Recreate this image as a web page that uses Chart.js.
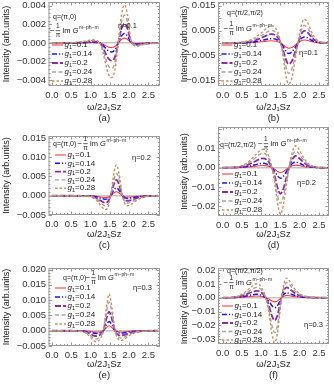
<!DOCTYPE html>
<html>
<head>
<meta charset="utf-8">
<script src="https://cdn.jsdelivr.net/npm/chart.js@4.4.0/dist/chart.umd.min.js"></script>
<style>
  body { margin: 0; background: #fff; }
  #wrap { position: relative; width: 334px; height: 385px; overflow: hidden; }
  .panel { position: absolute; }
</style>
</head>
<body>
<div id="wrap">
  <div class="panel" id="pa"><canvas></canvas></div>
  <div class="panel" id="pb"><canvas></canvas></div>
  <div class="panel" id="pc"><canvas></canvas></div>
  <div class="panel" id="pd"><canvas></canvas></div>
  <div class="panel" id="pe"><canvas></canvas></div>
  <div class="panel" id="pf"><canvas></canvas></div>
</div>
<script>
// g1 values of the five curves, same in every panel
const gValues = ['0.1', '0.14', '0.2', '0.24', '0.28'];
const xTicks = [0, 0.5, 1, 1.5, 2, 2.5];

// (a) q=(pi,0), eta=0.1
const wA = [0, 0.4, 0.7, 0.9, 1.05, 1.2, 1.3, 1.4, 1.47, 1.55, 1.63, 1.72, 1.8, 1.88, 1.96, 2.05, 2.2, 2.4, 2.75];
const a10 = [0, 0, 0.00001, 0.00003, 0.00005, 0.00003, -0.00008, -0.0003, -0.00044, -0.00048, -0.00037, 0.00001, 0.00038, 0.00053, 0.00038, 0.00004, -0.00005, -0.00002, 0];
const a14 = [0, 0, 0.00003, 0.00006, 0.00009, 0.00005, -0.00015, -0.0006, -0.00085, -0.00095, -0.00073, 0.00003, 0.00075, 0.00103, 0.00075, 0.00008, -0.00009, -0.00003, 0];
const a20 = [0, 0.00001, 0.00005, 0.00013, 0.00018, 0.0001, -0.0003, -0.0012, -0.0017, -0.0019, -0.0015, 0.00005, 0.0015, 0.0021, 0.0015, 0.00015, -0.00018, -0.00006, 0];
const a24 = [0, 0.00001, 0.00007, 0.00018, 0.00026, 0.00015, -0.00044, -0.0018, -0.0025, -0.0027, -0.0021, 0.0001, 0.0022, 0.003, 0.0022, 0.0002, -0.00026, -0.00009, 0];
const a28 = [0, 0.00002, 0.0001, 0.00025, 0.00035, 0.0002, -0.0006, -0.0024, -0.0034, -0.0037, -0.0029, 0.0001, 0.003, 0.0041, 0.003, 0.0003, -0.00035, -0.00012, 0];
const aTicks = [-0.004, -0.002, 0, 0.002, 0.004];

// (b) q=(pi/2,pi/2), eta=0.1
const wB = [0, 0.4, 0.6, 0.8, 1.0, 1.15, 1.27, 1.38, 1.47, 1.55, 1.63, 1.71, 1.8, 1.88, 1.96, 2.04, 2.12, 2.22, 2.32, 2.45, 2.6, 2.75];
const b10 = [0, 0.00001, 0.00008, 0.00023, 0.0005, 0.00077, 0.0009, 0.00074, 0.0003, -0.00045, -0.0015, -0.0021, -0.0018, -0.0009, 0.00006, 0.0009, 0.0012, 0.001, 0.0005, 0.00015, 0.00003, 0];
const b14 = [0, 0.00003, 0.00015, 0.00045, 0.001, 0.0015, 0.0018, 0.0015, 0.0006, -0.0009, -0.003, -0.0042, -0.0035, -0.0018, 0.0001, 0.0018, 0.0024, 0.002, 0.001, 0.0003, 0.00005, 0];
const b20 = [0, 0.00005, 0.0003, 0.0009, 0.002, 0.0031, 0.0036, 0.003, 0.0013, -0.0018, -0.0061, -0.0085, -0.0072, -0.0036, 0.0003, 0.0036, 0.0049, 0.004, 0.002, 0.0006, 0.0001, 0];
const b24 = [0, 0.00007, 0.0004, 0.0013, 0.0029, 0.0044, 0.0051, 0.0042, 0.0018, -0.0026, -0.0088, -0.0122, -0.0103, -0.0051, 0.0004, 0.0051, 0.0071, 0.0057, 0.0029, 0.0009, 0.00015, 0];
const b28 = [0, 0.0001, 0.0006, 0.0018, 0.004, 0.006, 0.007, 0.0058, 0.0025, -0.0035, -0.012, -0.0165, -0.014, -0.007, 0.0005, 0.007, 0.0096, 0.0078, 0.004, 0.0012, 0.0002, 0];
const bTicks = [-0.015, -0.01, -0.005, 0, 0.005, 0.01, 0.015];

// (c) q=(pi,0), eta=0.2
const wC = [0, 0.5, 0.8, 1.0, 1.15, 1.27, 1.37, 1.46, 1.53, 1.6, 1.67, 1.74, 1.81, 1.88, 1.96, 2.08, 2.2, 2.35, 2.5, 2.75];
const c10 = [0, 0, -0.00001, -0.00004, -0.00014, -0.00033, -0.00046, -0.00036, 0.00006, 0.0007, 0.00102, 0.00072, 0.00013, -0.00024, -0.00033, -0.00027, -0.00015, -0.00006, -0.00002, 0];
const c14 = [0, 0, -0.00001, -0.00008, -0.00028, -0.00065, -0.0009, -0.0007, 0.00012, 0.0014, 0.002, 0.0014, 0.00025, -0.00048, -0.00065, -0.00053, -0.0003, -0.00012, -0.00004, 0];
const c20 = [0, 0, -0.00003, -0.00015, -0.00056, -0.0013, -0.0018, -0.0014, 0.00025, 0.0028, 0.0041, 0.0029, 0.0005, -0.001, -0.0013, -0.0011, -0.0006, -0.00025, -0.00008, 0];
const c24 = [0, 0, -0.00004, -0.0002, -0.0008, -0.0019, -0.0026, -0.002, 0.0004, 0.004, 0.0058, 0.0041, 0.0007, -0.0014, -0.0019, -0.0015, -0.0009, -0.0004, -0.0001, 0];
const c28 = [0, 0, -0.00005, -0.0003, -0.0011, -0.0026, -0.0036, -0.0028, 0.0005, 0.0055, 0.008, 0.0056, 0.001, -0.0019, -0.0026, -0.0021, -0.0012, -0.0005, -0.00015, 0];
const cTicks = [-0.005, 0, 0.005, 0.01, 0.015];

// (d) q=(pi/2,pi/2), eta=0.2
const wD = [0, 0.3, 0.5, 0.7, 0.85, 0.95, 1.05, 1.15, 1.22, 1.28, 1.36, 1.43, 1.5, 1.57, 1.64, 1.7, 1.76, 1.83, 1.9, 1.98, 2.08, 2.2, 2.35, 2.5, 2.75];
const d10 = [0, 0.00002, 0.0001, 0.0004, 0.00075, 0.001, 0.0011, 0.0009, 0.0005, 0, -0.00095, -0.002, -0.0025, -0.0021, -0.0011, -0.0003, 0.0005, 0.0011, 0.0013, 0.0011, 0.0007, 0.0003, 0.0001, 0, 0];
const d14 = [0, 0.00005, 0.00023, 0.0008, 0.0015, 0.002, 0.0022, 0.0018, 0.001, 0, -0.0021, -0.0044, -0.0055, -0.0046, -0.0025, -0.0007, 0.001, 0.0024, 0.0028, 0.0024, 0.0014, 0.0006, 0.0002, 0, 0];
const d20 = [0, 0.0001, 0.0005, 0.0018, 0.0033, 0.0043, 0.0048, 0.004, 0.0023, 0, -0.005, -0.0107, -0.0135, -0.0113, -0.0062, -0.0017, 0.0021, 0.005, 0.006, 0.005, 0.0031, 0.0013, 0.0004, 0.00005, 0];
const d24 = [0, 0.00015, 0.0008, 0.0027, 0.0051, 0.0067, 0.0075, 0.0063, 0.0035, 0, -0.007, -0.0147, -0.0185, -0.0155, -0.0085, -0.0023, 0.003, 0.0072, 0.0085, 0.0072, 0.0044, 0.0019, 0.0005, 0.0001, 0];
const d28 = [0, 0.0002, 0.001, 0.0035, 0.0065, 0.0085, 0.0095, 0.008, 0.0045, 0, -0.009, -0.019, -0.024, -0.02, -0.011, -0.003, 0.004, 0.0095, 0.0113, 0.0095, 0.0058, 0.0025, 0.0007, 0.0001, 0];
const dTicks = [-0.02, -0.01, 0, 0.01];

// (e) q=(pi,0), eta=0.3
const wE = [0, 0.5, 0.8, 0.95, 1.05, 1.15, 1.25, 1.33, 1.4, 1.48, 1.56, 1.63, 1.7, 1.78, 1.88, 2.0, 2.15, 2.35, 2.75];
const e10 = [0, 0, -0.00005, -0.0002, -0.00037, -0.00046, -0.00033, -0.00003, 0.00085, 0.0016, 0.00093, 0.00005, -0.00031, -0.00041, -0.00035, -0.0002, -0.00009, -0.00003, 0];
const e14 = [0, -0.00001, -0.0001, -0.0004, -0.0007, -0.0009, -0.00065, -0.00005, 0.0016, 0.003, 0.0018, 0.0001, -0.0006, -0.0008, -0.0007, -0.0004, -0.00018, -0.00005, 0];
const e20 = [0, -0.00002, -0.0002, -0.0008, -0.0014, -0.0018, -0.0013, -0.0001, 0.0034, 0.0062, 0.0036, 0.0002, -0.0012, -0.0016, -0.0014, -0.0008, -0.00035, -0.0001, 0];
const e24 = [0, -0.00002, -0.0003, -0.0011, -0.0021, -0.0027, -0.0019, -0.0001, 0.0051, 0.0094, 0.0055, 0.0003, -0.0018, -0.0024, -0.002, -0.0012, -0.0005, -0.00015, 0];
const e28 = [0, -0.00003, -0.0004, -0.0015, -0.0029, -0.0036, -0.0026, -0.0002, 0.0065, 0.012, 0.007, 0.0004, -0.0024, -0.0032, -0.0027, -0.0016, -0.0007, -0.0002, 0];
const eTicks = [-0.005, 0, 0.005, 0.01, 0.015, 0.02];

// (f) q=(pi/2,pi/2), eta=0.3
const wF = [0, 0.2, 0.4, 0.55, 0.7, 0.8, 0.88, 0.97, 1.05, 1.12, 1.2, 1.28, 1.35, 1.42, 1.48, 1.53, 1.59, 1.66, 1.74, 1.84, 1.95, 2.1, 2.3, 2.5, 2.75];
const f10 = [0, 0.00002, 0.00014, 0.0004, 0.0008, 0.0011, 0.0012, 0.0011, 0.0006, 0, -0.001, -0.0024, -0.003, -0.0024, -0.0011, 0, 0.0011, 0.0016, 0.0014, 0.0009, 0.0005, 0.0002, 0.00005, 0, 0];
const f14 = [0, 0.00005, 0.0003, 0.0009, 0.0017, 0.0022, 0.0025, 0.0022, 0.0012, 0, -0.0024, -0.0058, -0.0072, -0.0058, -0.0027, 0.0001, 0.0025, 0.0035, 0.003, 0.0019, 0.001, 0.0004, 0.0001, 0, 0];
const f20 = [0, 0.0001, 0.0006, 0.0017, 0.0034, 0.0045, 0.005, 0.0045, 0.0025, 0, -0.0055, -0.0131, -0.0164, -0.0131, -0.006, 0.0003, 0.0053, 0.0075, 0.0063, 0.004, 0.0021, 0.0008, 0.0002, 0, 0];
const f24 = [0, 0.00015, 0.0009, 0.0026, 0.005, 0.0067, 0.0075, 0.0067, 0.0037, 0, -0.0086, -0.0203, -0.0253, -0.0203, -0.0093, 0.0004, 0.0077, 0.011, 0.0093, 0.0058, 0.0031, 0.0012, 0.0003, 0.0001, 0];
const f28 = [0, 0.0002, 0.0012, 0.0035, 0.0068, 0.009, 0.0101, 0.009, 0.005, 0, -0.011, -0.026, -0.0325, -0.026, -0.012, 0.0005, 0.01, 0.0142, 0.012, 0.0075, 0.004, 0.0015, 0.0004, 0.0001, 0];
const fTicks = [-0.03, -0.02, -0.01, 0, 0.01, 0.02];

// line styles for g1 = 0.1 ... 0.28
const lineColors = ['#ff3c3c', '#1414ff', '#8f2a9f', '#a3a3a3', '#c8915c'];
const lineDash = [[], [5, 2, 1.2, 2], [6, 2], [4, 2.5], [2.5, 2]];
const lineWidths = [1.1, 1.5, 1.8, 1.4, 1.4];

const FONT = '"Liberation Sans", Arial, sans-serif';
const TOP_PAD = 10;

const panels = [
    {id: 'pa', col: 0, top: -8, plotH: 84, xAxisH: 38, ymin: -0.0046, ymax: 0.0044, dec: 3, yTicks: aTicks,
     w: wA, ys: [a10, a14, a20, a24, a28], tag: '(a)', q: 'q=(π,0)', eta: 'η=0.1',
     qPos: [4.5, 15], gPos: [1.5, 29], etaPos: [69.5, 24], leg: [3.5, 43, 9]},
    {id: 'pb', col: 1, top: -8, plotH: 84, xAxisH: 38, ymin: -0.0173, ymax: 0.0165, dec: 3, yTicks: bTicks,
     w: wB, ys: [b10, b14, b20, b24, b28], tag: '(b)', q: 'q=(π/2,π/2)', eta: 'η=0.1',
     qPos: [9, 11], gPos: [5.5, 27], etaPos: [81, 51], leg: [3.5, 43, 9]},
    {id: 'pc', col: 0, top: 126, plotH: 79, xAxisH: 36, ymin: -0.005, ymax: 0.0155, dec: 3, yTicks: cTicks,
     w: wC, ys: [c10, c14, c20, c24, c28], tag: '(c)', q: 'q=(π,0)', eta: 'η=0.2',
     qPos: [4.5, 8], gPos: [29, 8], etaPos: [83.5, 22], leg: [6.5, 19, 8.3]},
    {id: 'pd', col: 1, top: 117, plotH: 89, xAxisH: 35, ymin: -0.025, ymax: 0.021, dec: 2, yTicks: dTicks,
     w: wD, ys: [d10, d14, d20, d24, d28], tag: '(d)', q: 'q=(π/2,π/2)', eta: 'η=0.2',
     qPos: [2, 18], gPos: [40, 17], etaPos: [79, 56], leg: [4, 47, 9]},
    {id: 'pe', col: 0, top: 258, plotH: 78, xAxisH: 35, ymin: -0.005, ymax: 0.0205, dec: 3, yTicks: eTicks,
     w: wE, ys: [e10, e14, e20, e24, e28], tag: '(e)', q: 'q=(π,0)', eta: 'η=0.3',
     qPos: [14.5, 10], gPos: [37, 10], etaPos: [84.5, 20], leg: [6.5, 20, 9]},
    {id: 'pf', col: 1, top: 258, plotH: 76, xAxisH: 37, ymin: -0.0335, ymax: 0.0215, dec: 2, yTicks: fTicks,
     w: wF, ys: [f10, f14, f20, f24, f28], tag: '(f)', q: 'q=(π/2,π/2)', eta: 'η=0.3',
     qPos: [9, 3], gPos: [5.5, 15], etaPos: [86, 57], leg: [4, 38, 8.5]}
];

const colGeom = [
    {left: 0, plotLeft: 48.5, plotRight: 160, xmin: -0.09, xmax: 2.8, titlePad: 1},
    {left: 167, plotLeft: 218, plotRight: 329, xmin: -0.12, xmax: 2.76, titlePad: 12}
];

function fmtY(v, dec) {
    const s = Math.abs(v) < 1e-12 ? (0).toFixed(dec) : v.toFixed(dec);
    return s.replace('-', '\u2212');
}

// "-(1/pi) Im G^(m-ph-m)"
function drawImG(ctx, x, y) {
    ctx.textBaseline = 'middle';
    ctx.textAlign = 'left';
    ctx.font = '8px ' + FONT;
    ctx.fillText('\u2212', x, y);
    const fx = x + ctx.measureText('\u2212').width + 1;
    ctx.fillRect(fx, y - 0.6, 4.5, 0.7);
    ctx.font = '6.5px ' + FONT;
    ctx.textAlign = 'center';
    ctx.fillText('1', fx + 2.25, y - 5);
    ctx.fillText('π', fx + 2.25, y + 4.5);
    ctx.textAlign = 'left';
    ctx.font = '7.5px ' + FONT;
    let gx = fx + 6.5;
    ctx.fillText('Im ', gx, y);
    gx += ctx.measureText('Im ').width;
    ctx.font = 'italic 7.5px ' + FONT;
    ctx.fillText('G', gx, y);
    gx += ctx.measureText('G').width + 0.5;
    ctx.font = '5px ' + FONT;
    ctx.fillText('m\u2212ph\u2212m', gx, y - 3);
}

function drawG1(ctx, x, y, g) {
    ctx.textBaseline = 'middle';
    ctx.textAlign = 'left';
    ctx.font = 'italic 8px ' + FONT;
    ctx.fillText('g', x, y);
    let tx = x + ctx.measureText('g').width;
    ctx.font = '5.5px ' + FONT;
    ctx.fillText('1', tx, y + 2.2);
    tx += ctx.measureText('1').width;
    ctx.font = '8px ' + FONT;
    ctx.fillText('=' + g, tx, y);
}

const decorPlugin = {
    id: 'decor',
    afterDatasetsDraw(chart, args, opts) {
        const p = opts.panel;
        const {left, right, top, bottom} = chart.chartArea;
        const ctx = chart.ctx;
        const xs = chart.scales.x, ys = chart.scales.y;
        ctx.save();
        // frame
        ctx.strokeStyle = '#9a9a9a';
        ctx.lineWidth = 1;
        ctx.strokeRect(left + 0.5, top + 0.5, right - left - 1, bottom - top - 1);
        // inward ticks
        ctx.beginPath();
        for (let v = 0; v <= 2.75; v += 0.1) {
            const px = Math.round(xs.getPixelForValue(v)) + 0.5;
            const major = Math.abs(v * 2 - Math.round(v * 2)) < 1e-6;
            const len = major ? 3.5 : 2;
            ctx.moveTo(px, bottom); ctx.lineTo(px, bottom - len);
            ctx.moveTo(px, top); ctx.lineTo(px, top + len);
        }
        const step = p.yTicks[1] - p.yTicks[0];
        for (let k = -40; k <= 40; k++) {
            const v = k * step / 5;
            if (v < ys.min || v > ys.max) continue;
            const py = Math.round(ys.getPixelForValue(v)) + 0.5;
            const len = k % 5 === 0 ? 3.5 : 2;
            ctx.moveTo(left, py); ctx.lineTo(left + len, py);
            ctx.moveTo(right, py); ctx.lineTo(right - len, py);
        }
        ctx.stroke();

        // annotations
        ctx.fillStyle = '#222';
        ctx.font = '7px ' + FONT;
        ctx.textBaseline = 'middle';
        ctx.textAlign = 'left';
        ctx.fillText(p.q, left + p.qPos[0], top + p.qPos[1]);
        drawImG(ctx, left + p.gPos[0], top + p.gPos[1]);
        ctx.font = '7.5px ' + FONT;
        ctx.fillText(p.eta, left + p.etaPos[0], top + p.etaPos[1]);

        // legend
        const [lx, ly, dy] = p.leg;
        gValues.forEach((g, i) => {
            const yy = top + ly + i * dy;
            ctx.strokeStyle = lineColors[i];
            ctx.lineWidth = lineWidths[i];
            ctx.setLineDash(lineDash[i]);
            ctx.beginPath();
            ctx.moveTo(left + lx, yy);
            ctx.lineTo(left + lx + 11, yy);
            ctx.stroke();
            ctx.setLineDash([]);
            ctx.fillStyle = '#222';
            drawG1(ctx, left + lx + 12.5, yy, g);
        });
        ctx.restore();
    }
};

function makePanel(p) {
    const geo = colGeom[p.col];
    const el = document.getElementById(p.id);
    el.style.left = geo.left + 'px';
    el.style.top = p.top + 'px';
    const canvas = el.querySelector('canvas');
    canvas.width = 167;
    canvas.height = TOP_PAD + p.plotH + p.xAxisH;

    const datasets = p.ys.map((ys, i) => ({
        label: 'g1=' + gValues[i],
        data: p.w.map((x, j) => ({x: x, y: ys[j]})),
        borderColor: lineColors[i],
        borderWidth: lineWidths[i],
        borderDash: lineDash[i],
        pointRadius: 0,
        cubicInterpolationMode: 'monotone',
        fill: false,
        order: 5 - i
    }));

    new Chart(canvas, {
        type: 'line',
        data: {datasets: datasets},
        options: {
            responsive: false,
            animation: false,
            devicePixelRatio: 1,
            layout: {padding: {top: TOP_PAD, left: 0, bottom: 0, right: 167 - (geo.plotRight - geo.left)}},
            plugins: {
                legend: {display: false},
                tooltip: {enabled: false},
                decor: {panel: p}
            },
            scales: {
                x: {
                    type: 'linear',
                    min: geo.xmin,
                    max: geo.xmax,
                    afterBuildTicks: (s) => { s.ticks = xTicks.map(v => ({value: v})); },
                    afterFit: (s) => { s.height = p.xAxisH; },
                    grid: {display: false, drawTicks: false},
                    border: {display: false},
                    ticks: {
                        padding: 4,
                        color: '#333',
                        font: {family: FONT, size: 9.5},
                        maxRotation: 0,
                        callback: (v) => v.toFixed(1)
                    },
                    title: {
                        display: true,
                        text: ['ω/2J₁Sz', p.tag],
                        color: '#222',
                        font: {family: FONT, size: 9.5, lineHeight: 1.15},
                        padding: {top: 0, bottom: 0}
                    }
                },
                y: {
                    type: 'linear',
                    min: p.ymin,
                    max: p.ymax,
                    afterBuildTicks: (s) => { s.ticks = p.yTicks.map(v => ({value: v})); },
                    afterFit: (s) => { s.width = geo.plotLeft - geo.left; },
                    grid: {
                        drawTicks: false,
                        color: (c) => (c.tick && Math.abs(c.tick.value) < 1e-12) ? '#c4c4c4' : 'rgba(0,0,0,0)',
                        lineWidth: 1.5
                    },
                    border: {display: false},
                    ticks: {
                        padding: 2.5,
                        color: '#333',
                        font: {family: FONT, size: 9.5},
                        callback: (v) => fmtY(v, p.dec)
                    },
                    title: {
                        display: true,
                        text: 'Intensity (arb.units)',
                        color: '#222',
                        font: {family: FONT, size: 9},
                        padding: {top: geo.titlePad, bottom: 0}
                    }
                }
            }
        },
        plugins: [decorPlugin]
    });
}

panels.forEach(makePanel);
</script>
</body>
</html>
